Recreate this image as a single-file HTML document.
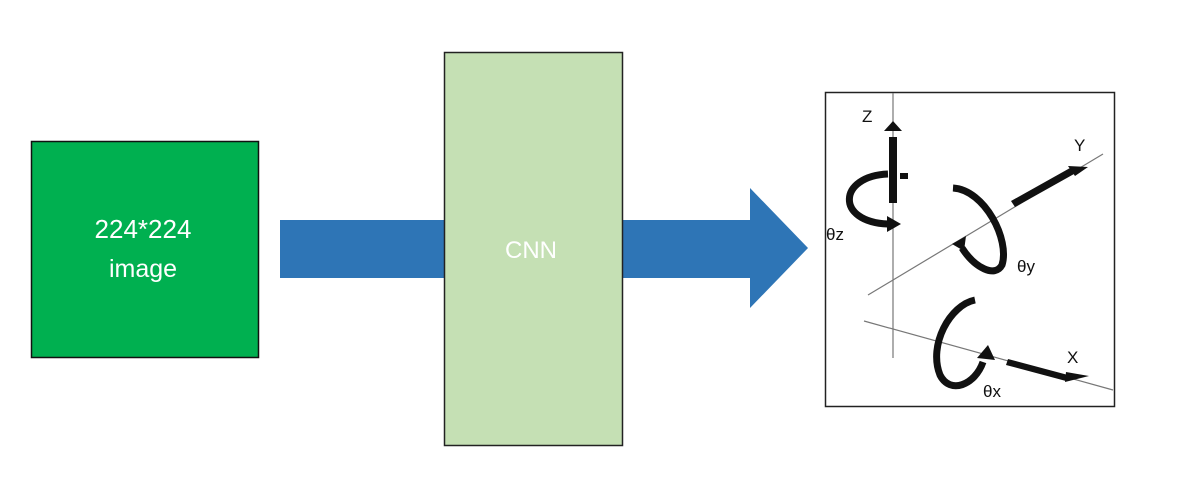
<!DOCTYPE html>
<html><head><meta charset="utf-8"><style>
html,body{margin:0;padding:0;background:#fff;}
</style></head><body>
<svg width="1190" height="500" viewBox="0 0 1190 500" xmlns="http://www.w3.org/2000/svg" style="display:block">
<rect x="0" y="0" width="1190" height="500" fill="#fff"/>
<rect x="31.5" y="141.5" width="227" height="216" fill="#00b050" stroke="#111" stroke-width="1.5"/>
<text x="143" y="238" fill="#fff" font-family="Liberation Sans, sans-serif" font-size="26" text-anchor="middle">224*224</text>
<text x="143" y="277" fill="#fff" font-family="Liberation Sans, sans-serif" font-size="25" text-anchor="middle">image</text>
<polygon points="280,220 750,220 750,188 808,248 750,308 750,278 280,278" fill="#2e75b6"/>
<rect x="444.5" y="52.5" width="178" height="393" fill="#c5e0b4" stroke="#222" stroke-width="1.5"/>
<text x="531" y="258" fill="#fff" font-family="Liberation Sans, sans-serif" font-size="24" text-anchor="middle">CNN</text>
<rect x="825.5" y="92.5" width="289" height="314" fill="#fff" stroke="#222" stroke-width="1.5"/>
<g stroke="#777" stroke-width="1.2" fill="none">
<line x1="893" y1="93" x2="893" y2="358"/>
<line x1="868" y1="295" x2="1103" y2="154"/>
<line x1="864" y1="321" x2="1113" y2="390"/>
</g>
<g fill="#111" stroke="none">
<rect x="889" y="137" width="8" height="66"/>
<polygon points="884,131 902,131 893,121"/>
<rect x="900" y="173" width="8" height="6"/>
<polygon points="1011,201 1070,168 1074,174 1015,207"/>
<polygon points="1068,166 1088,167 1075,176"/>
<polygon points="1008,359 1068,375 1066,381 1006,365"/>
<polygon points="1066,372 1089,376 1065,382"/>
</g>
<g fill="none" stroke="#111" stroke-width="7">
<path d="M 888 174 C 838 176, 835 222, 888 224"/>
<path d="M 953 188 C 985 190, 1010 240, 1002 265 C 995 278, 975 268, 962 248"/>
<path d="M 975 300 C 950 305, 928 345, 940 375 C 950 395, 975 385, 983 362"/>
</g>
<g fill="#111">
<polygon points="887,216 901,224 887,232"/>
<polygon points="952,244 966,236 964,251"/>
<polygon points="977,358 988,345 995,360"/>
</g>
<g fill="#111" font-family="Liberation Sans, DejaVu Sans, sans-serif" font-size="17">
<text x="862" y="122">Z</text>
<text x="1074" y="151">Y</text>
<text x="1067" y="363">X</text>
<text x="826" y="240">θz</text>
<text x="1017" y="272">θy</text>
<text x="983" y="397">θx</text>
</g>
</svg>
</body></html>
